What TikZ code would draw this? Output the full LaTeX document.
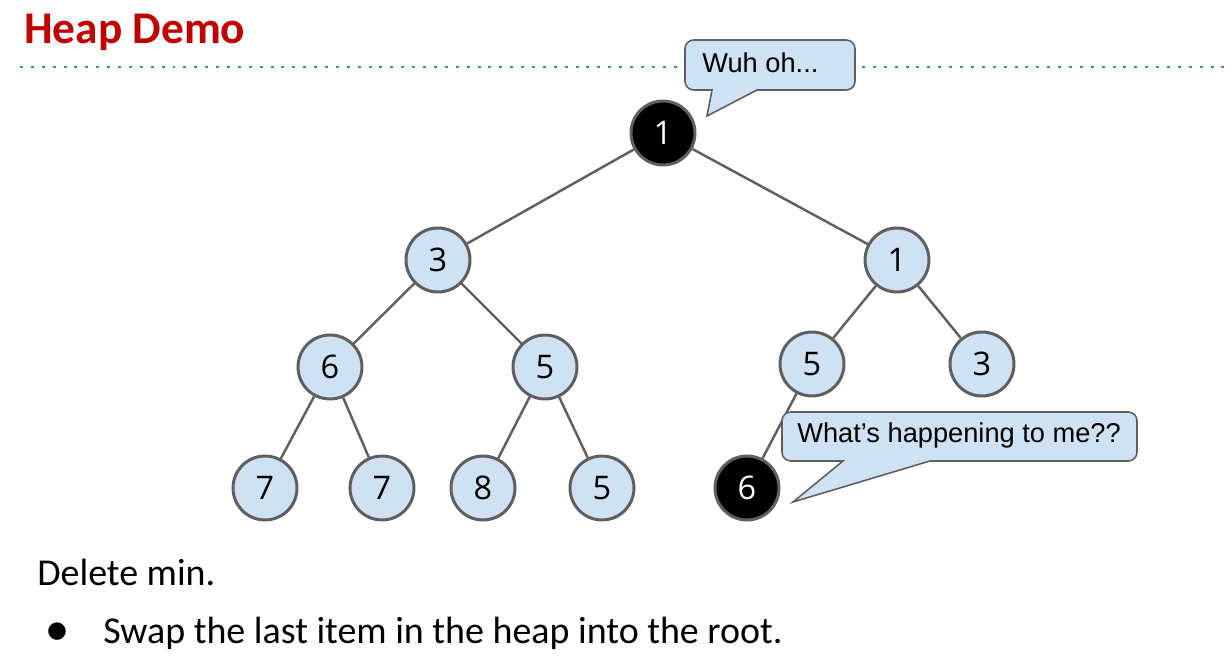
\documentclass[tikz,border=0pt]{standalone}
\usepackage{fontspec}
\setmainfont{Carlito}
\newfontfamily\numfont{Open Sans}
\newfontfamily\bubblefont{Liberation Sans}
\newfontfamily\symfont{DejaVu Sans}
\usepackage{xcolor}
\usepackage{tikz}
\usetikzlibrary{positioning}

\definecolor{heapblue}{HTML}{CFE2F3}
\definecolor{heapgray}{HTML}{5F5F5F}
\definecolor{titlered}{HTML}{C00000}
\definecolor{ruleblue}{HTML}{3D85C6}

\begin{document}
\begin{tikzpicture}[x=0.02cm, y=-0.02cm,
    heapnode/.style={circle, draw=heapgray, line width=1.7pt, fill=heapblue,
      minimum size=1.28cm, inner sep=0pt, font=\numfont\fontsize{18.5}{18.5}\selectfont},
    movednode/.style={heapnode, fill=black, text=white},
    heapedge/.style={draw=heapgray, line width=1.4pt},
    bubble/.style={draw=heapgray, fill=heapblue, line width=0.9pt},
    bubbletext/.style={anchor=base west, inner sep=0pt, font=\bubblefont\fontsize{15.5}{15.5}\selectfont},
    bodytext/.style={anchor=base west, inner sep=0pt, font=\fontsize{21.6}{21.6}\selectfont}]
  \useasboundingbox (0,0) rectangle (1231,658);

  % Title and dotted rule
  \node[anchor=base west, inner sep=0pt, text=titlered,
    font=\bfseries\fontsize{25.8}{25.8}\selectfont] (title) at (24,44) {Heap Demo};
  \draw[ruleblue, line width=1.7pt, dash pattern=on 1.7pt off 4.5pt] (20,67) -- (677,67);
  \draw[ruleblue, line width=1.7pt, dash pattern=on 1.7pt off 4.5pt] (862,67) -- (1231,67);

  % Heap nodes
  \node[movednode] (root) at (663,133) {1};
  \node[heapnode] (a) at (438,260) {3};
  \node[heapnode] (b) at (897,260) {1};
  \node[heapnode] (c) at (330,367) {6};
  \node[heapnode] (d) at (545,367) {5};
  \node[heapnode] (e) at (812,364) {5};
  \node[heapnode] (f) at (982,364) {3};
  \node[heapnode] (g) at (265,488) {7};
  \node[heapnode] (h) at (382,488) {7};
  \node[heapnode] (i) at (483,488) {8};
  \node[heapnode] (j) at (602,488) {5};
  \node[movednode] (k) at (747,488) {6};
  \foreach \p/\c in {root/a,root/b,a/c,a/d,b/e,b/f,c/g,c/h,d/i,d/j,e/k}
    \draw[heapedge] (\p) -- (\c);

  % Speech bubbles
  \draw[bubble] (707,116) -- (757,90) [rounded corners=5pt] -- (855,90) -- (855,40)
    -- (685,40) -- (685,90) [sharp corners] -- (712,90) -- cycle;
  \node[bubbletext] (wuh) at (702,73) {Wuh oh...};
  \draw[bubble] (793,502) -- (930,461) [rounded corners=5pt] -- (1137,461) -- (1137,412)
    -- (782,412) -- (782,461) [sharp corners] -- (843,461) -- cycle;
  \node[bubbletext] (what) at (797,443) {What’s happening to me??};

  % Text below
  \node[bodytext] (step) at (37,585) {Delete min.};
  \node[font=\symfont\fontsize{13}{13}\selectfont, inner sep=0pt] (dot) at (57,632) {●};
  \node[bodytext] (swap) at (103,643) {Swap the last item in the heap into the root.};
\end{tikzpicture}
\end{document}
